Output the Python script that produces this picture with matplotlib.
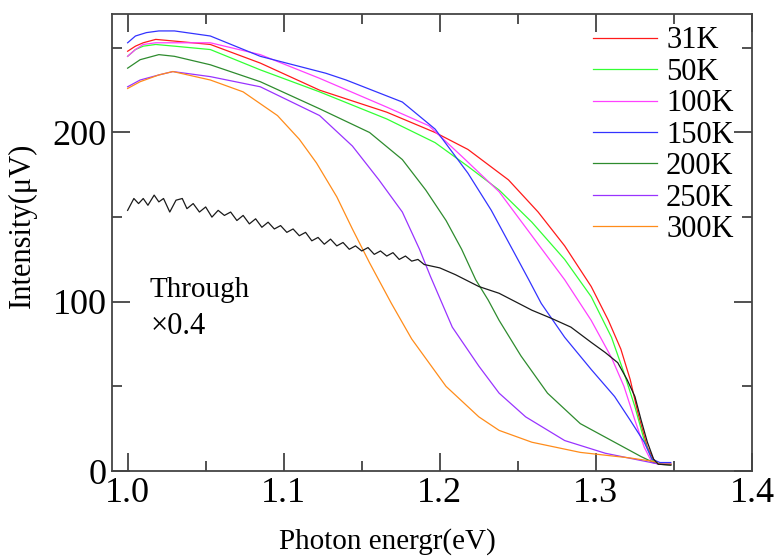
import numpy as np
import matplotlib
matplotlib.use('Agg')
import matplotlib.pyplot as plt
from matplotlib.ticker import MultipleLocator

# ---------------------------------------------------
# DATA
# ---------------------------------------------------
labels = ['31K', '50K', '100K', '150K', '200K', '250K', '300K']
colors = ['#ff1a1a', '#33ff33', '#ff40ff', '#3333ff', '#2e8b2e', '#9933ff', '#ff8c1a']

e_31 = [1.000, 1.005, 1.010, 1.018, 1.030, 1.053, 1.085, 1.123, 1.166, 1.197, 1.218,
        1.244, 1.263, 1.280, 1.297, 1.308, 1.316, 1.322, 1.327, 1.333, 1.338, 1.341, 1.348]
i_31 = [248, 251, 253, 255, 254, 252, 241, 225, 212, 200, 190,
        172, 153, 133, 109, 89, 72, 54, 34, 14, 5, 4, 4]

e_50 = [1.000, 1.005, 1.010, 1.018, 1.030, 1.053, 1.085, 1.123, 1.166, 1.197, 1.218,
        1.238, 1.259, 1.280, 1.297, 1.310, 1.318, 1.325, 1.331, 1.336, 1.341, 1.348]
i_50 = [245, 249, 251, 252, 251, 249, 237, 224, 208, 194, 180,
        166, 147, 125, 103, 79, 58, 38, 18, 6.5, 4, 4]

e_100 = [1.000, 1.005, 1.010, 1.018, 1.030, 1.053, 1.085, 1.123, 1.166, 1.193, 1.214,
         1.238, 1.259, 1.280, 1.297, 1.310, 1.318, 1.325, 1.331, 1.336, 1.341, 1.348]
i_100 = [245, 249, 252, 253, 253, 253, 246, 232, 215, 204, 186,
         165, 139, 113, 89, 67, 50, 30, 14, 5, 4, 4]

e_150 = [1.000, 1.005, 1.012, 1.020, 1.030, 1.053, 1.085, 1.127, 1.140, 1.176, 1.197,
         1.218, 1.233, 1.250, 1.257, 1.265, 1.280, 1.297, 1.312, 1.322, 1.331, 1.336,
         1.341, 1.348]
i_150 = [253, 257, 259, 260, 260, 257, 245, 235, 231, 218, 202,
         176, 154, 125, 113, 99, 79, 60, 44, 30, 17, 7, 5, 5]

e_200 = [1.000, 1.008, 1.020, 1.030, 1.053, 1.085, 1.123, 1.155, 1.176, 1.191, 1.204,
         1.214, 1.223, 1.231, 1.238, 1.252, 1.269, 1.290, 1.312, 1.329, 1.337, 1.341, 1.348]
i_200 = [238, 243, 246, 245, 240, 230, 214, 200, 184, 166, 148,
         131, 113, 101, 89, 68, 46, 28, 17, 8.5, 5, 4, 3.5]

e_250 = [1.000, 1.008, 1.020, 1.029, 1.053, 1.085, 1.123, 1.144, 1.161, 1.176, 1.187,
         1.194, 1.208, 1.225, 1.238, 1.255, 1.280, 1.306, 1.330, 1.341, 1.348]
i_250 = [227, 231, 234, 236, 233, 227, 210, 192, 172, 153, 131,
         115, 85, 62, 46, 32, 18, 10.5, 6, 4, 4]

e_300 = [1.000, 1.008, 1.020, 1.029, 1.053, 1.074, 1.096, 1.104, 1.110, 1.121, 1.134,
         1.144, 1.155, 1.169, 1.182, 1.204, 1.225, 1.238, 1.259, 1.290, 1.322, 1.338,
         1.341, 1.348]
i_300 = [226, 230, 234, 236, 231, 224, 210, 202, 196, 182, 162,
         143, 123, 99, 78, 50, 32, 24, 17, 11, 7.7, 5.5, 4, 4]

# through signal (x0.4)
e_thr = [1.000, 1.004, 1.007, 1.010, 1.013, 1.017, 1.020, 1.023, 1.027, 1.031,
         1.035, 1.038, 1.042, 1.046, 1.050, 1.054, 1.058, 1.062, 1.066, 1.070,
         1.074, 1.078, 1.082, 1.086, 1.090, 1.094, 1.098, 1.102, 1.106, 1.110,
         1.114, 1.118, 1.122, 1.126, 1.130, 1.134, 1.138, 1.142, 1.146, 1.150,
         1.154, 1.158, 1.162, 1.166, 1.170, 1.174, 1.178, 1.182, 1.186, 1.190,
         1.195, 1.200, 1.210, 1.225, 1.238, 1.259, 1.272, 1.284, 1.297, 1.306,
         1.314, 1.320, 1.325, 1.329, 1.333, 1.337, 1.340, 1.348]
i_thr = [154, 161, 158, 161, 157, 163, 159, 161, 153, 160,
         161, 155, 158, 153, 156, 150, 154, 151, 153, 148,
         151, 146, 149, 144, 147, 143, 145, 141, 143, 139,
         141, 136, 138, 134, 137, 133, 135, 131, 133, 130,
         132, 128, 130, 127, 129, 125, 127, 124, 125, 122,
         121, 120, 116, 109, 105, 95, 90, 85, 76, 70,
         64, 54, 44, 30, 17, 7, 4, 3.5]

energies = [e_31, e_50, e_100, e_150, e_200, e_250, e_300]
intensities = [i_31, i_50, i_100, i_150, i_200, i_250, i_300]


def main():

    plt.rcParams['font.family'] = ['Liberation Serif', 'DejaVu Serif']

    fig = plt.figure(figsize=(7.79, 5.58), dpi=100)
    ax = fig.add_axes([0.1438, 0.1559, 0.8215, 0.8190])

    # ---------------------------------------------------
    # CURVES
    # ---------------------------------------------------
    for e, i, lab, c in zip(energies, intensities, labels, colors):
        ax.plot(e, i, color=c, lw=0.9, label=lab)

    ax.plot(e_thr, i_thr, color='#1a1a1a', lw=0.9)

    ax.text(1.014, 103, 'Through', fontsize=21)
    ax.text(1.015, 81, '\u00d70.4', fontsize=22)

    # ---------------------------------------------------
    # AXES
    # ---------------------------------------------------
    ax.set_xlim(0.99, 1.398)
    ax.set_ylim(0, 270)

    ax.xaxis.set_major_locator(MultipleLocator(0.1))
    ax.xaxis.set_minor_locator(MultipleLocator(0.05))
    ax.yaxis.set_major_locator(MultipleLocator(100))
    ax.yaxis.set_minor_locator(MultipleLocator(50))
    ax.set_xticks([1.0, 1.1, 1.2, 1.3, 1.4])
    ax.set_xticklabels(['1.0', '1.1', '1.2', '1.3', '1.4'])

    ax.tick_params(which='both', direction='in', top=True, right=True,
                   colors='#333333', labelcolor='black', width=1.2)
    ax.tick_params(which='major', length=13, labelsize=26, pad=4)
    ax.tick_params(which='minor', length=7)
    for s in ax.spines.values():
        s.set_color('#444444')
        s.set_linewidth(1.3)

    ax.set_xlabel('Photon energr(eV)', fontsize=21)
    ax.xaxis.set_label_coords(0.43, -0.125)
    ax.set_ylabel('Intensity(\u03bcV)', fontsize=22)
    ax.yaxis.set_label_coords(-0.117, 0.537)

    # ---------------------------------------------------
    # LEGEND
    # ---------------------------------------------------
    ax.legend(loc='upper right', frameon=False, fontsize=22,
              handlelength=2.1, handletextpad=0.3, labelspacing=0.08,
              borderaxespad=0.2, bbox_to_anchor=(1.0, 1.013))

    fig.savefig('out.png', dpi=100)


if __name__ == "__main__":
    main()
